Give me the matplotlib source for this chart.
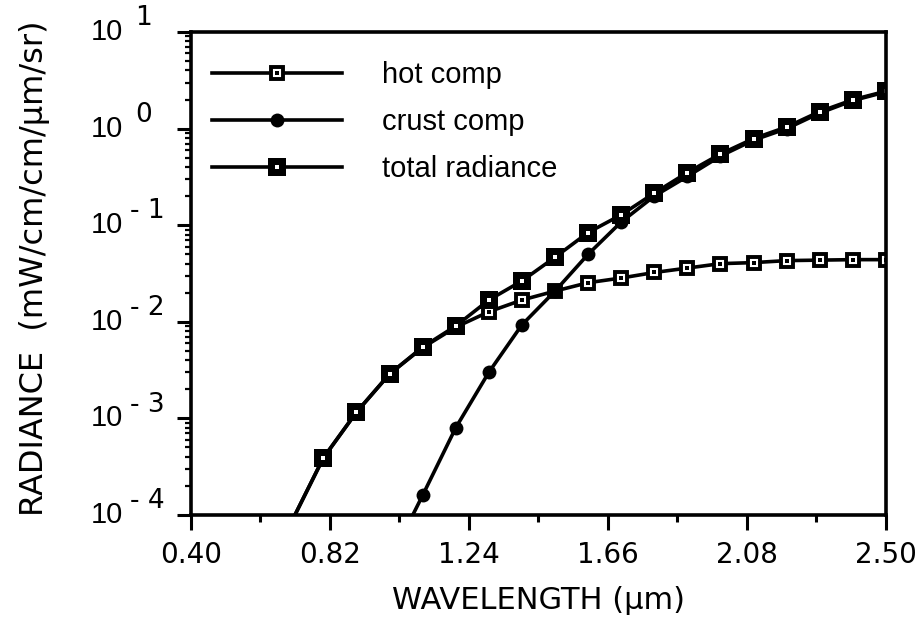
import numpy as np
import matplotlib
matplotlib.use("Agg")
import matplotlib.pyplot as plt
from matplotlib.ticker import FixedLocator, NullFormatter, LogLocator

plt.rcParams['font.family'] = ['Liberation Sans', 'DejaVu Sans']

# wavelength (um)
wl = [0.7, 0.8, 0.9, 1.0, 1.1, 1.2, 1.3, 1.4, 1.5, 1.6,
      1.7, 1.8, 1.9, 2.0, 2.1, 2.2, 2.3, 2.4, 2.5]
hot = [8.0e-5, 3.9e-4, 1.16e-3, 2.88e-3, 5.4e-3, 8.8e-3, 1.27e-2, 1.68e-2, 2.08e-2, 2.54e-2,
       2.84e-2, 3.24e-2, 3.6e-2, 4.0e-2, 4.1e-2, 4.3e-2, 4.35e-2, 4.4e-2, 4.4e-2]
total = [8.0e-5, 3.9e-4, 1.16e-3, 2.88e-3, 5.48e-3, 9.05e-3, 1.68e-2, 2.65e-2, 4.66e-2, 8.4e-2,
         0.128, 0.215, 0.351, 0.546, 0.788, 1.04, 1.50, 1.99, 2.44]
crust_wl = [1.0, 1.1, 1.2, 1.3, 1.4, 1.5, 1.6, 1.7, 1.8, 1.9,
            2.0, 2.1, 2.2, 2.3, 2.4, 2.5]
crust = [3.3e-5, 1.6e-4, 8.0e-4, 3.0e-3, 9.3e-3, 2.08e-2, 5.0e-2, 0.108, 0.2, 0.32,
         0.52, 0.76, 1.0, 1.45, 1.95, 2.4]

xticks = [0.40, 0.82, 1.24, 1.66, 2.08, 2.50]
xlabels = ['0.40', '0.82', '1.24', '1.66', '2.08', '2.50']
decades = [-4, -3, -2, -1, 0, 1]

wide = ['DejaVu Sans']

fig = plt.figure(figsize=(9.2, 6.25), dpi=100)
ax = fig.add_axes([0.2076, 0.176, 0.7554, 0.7728])

lw = 2.6
# hot comp: open squares with black dot
h1, = ax.plot(wl, hot, '-', color='k', lw=lw, marker='s', ms=8.2,
              mfc='white', mec='k', mew=2.8)
h1d, = ax.plot(wl, hot, ls='none', marker='s', ms=2.6, mfc='k', mec='k', mew=0)
# crust comp
c1, = ax.plot(crust_wl, crust, '-', color='k', lw=lw, marker='o', ms=10,
              mfc='k', mec='k', mew=0)
# total radiance: filled squares with white dot
t1, = ax.plot(wl, total, '-', color='k', lw=lw, marker='s', ms=12.5,
              mfc='k', mec='k', mew=0)
t1d, = ax.plot(wl, total, ls='none', marker='s', ms=2.6, mfc='white', mec='white', mew=0)

ax.set_yscale('log')
ax.set_xlim(0.40, 2.50)
ax.set_ylim(1e-4, 1e1)

ax.xaxis.set_major_locator(FixedLocator(xticks))
ax.set_xticklabels(xlabels, fontsize=20, family=wide)
mids = [(a + b) / 2 for a, b in zip(xticks[:-1], xticks[1:])]
ax.xaxis.set_minor_locator(FixedLocator(mids))
ax.tick_params(axis='x', which='major', direction='out', length=11, width=2.2, pad=8)
ax.tick_params(axis='x', which='minor', direction='out', length=5, width=2.2)

ax.yaxis.set_major_locator(FixedLocator([10.0 ** k for k in decades]))
ax.yaxis.set_minor_locator(LogLocator(base=10, subs=np.arange(2, 10)))
ax.yaxis.set_major_formatter(NullFormatter())
ax.yaxis.set_minor_formatter(NullFormatter())
ax.tick_params(axis='y', which='major', direction='out', length=10, width=2.2)
ax.tick_params(axis='y', which='minor', direction='out', length=4.5, width=1.6)

for k in decades:
    ax.annotate('10', xy=(0, 10.0 ** k), xycoords=('axes fraction', 'data'),
                xytext=(-49, 0), textcoords='offset points',
                ha='right', va='center', fontsize=21)
    ax.annotate('- %d' % abs(k) if k < 0 else '%d' % k, xy=(0, 10.0 ** k),
                xycoords=('axes fraction', 'data'),
                xytext=(-44 if k < 0 else -40, 10), textcoords='offset points',
                ha='left', va='center', fontsize=19, family=wide)

for s in ax.spines.values():
    s.set_linewidth(2.6)

ax.set_xlabel('WAVELENGTH (\u00b5m)', fontsize=22, family=wide, labelpad=12)
fig.text(0.037, 0.571, 'RADIANCE  (mW/cm/cm/\u00b5m/sr)', rotation=90,
         ha='center', va='center', fontsize=23, family=wide)

ax.legend([(h1, h1d), (c1,), (t1, t1d)], ['hot comp', 'crust comp', 'total radiance'],
          loc='upper left', bbox_to_anchor=(0.03, 0.94), frameon=False,
          fontsize=21, handlelength=4.45, handletextpad=1.37, labelspacing=0.66,
          borderaxespad=0, borderpad=0)

fig.savefig('out.png', dpi=100)
